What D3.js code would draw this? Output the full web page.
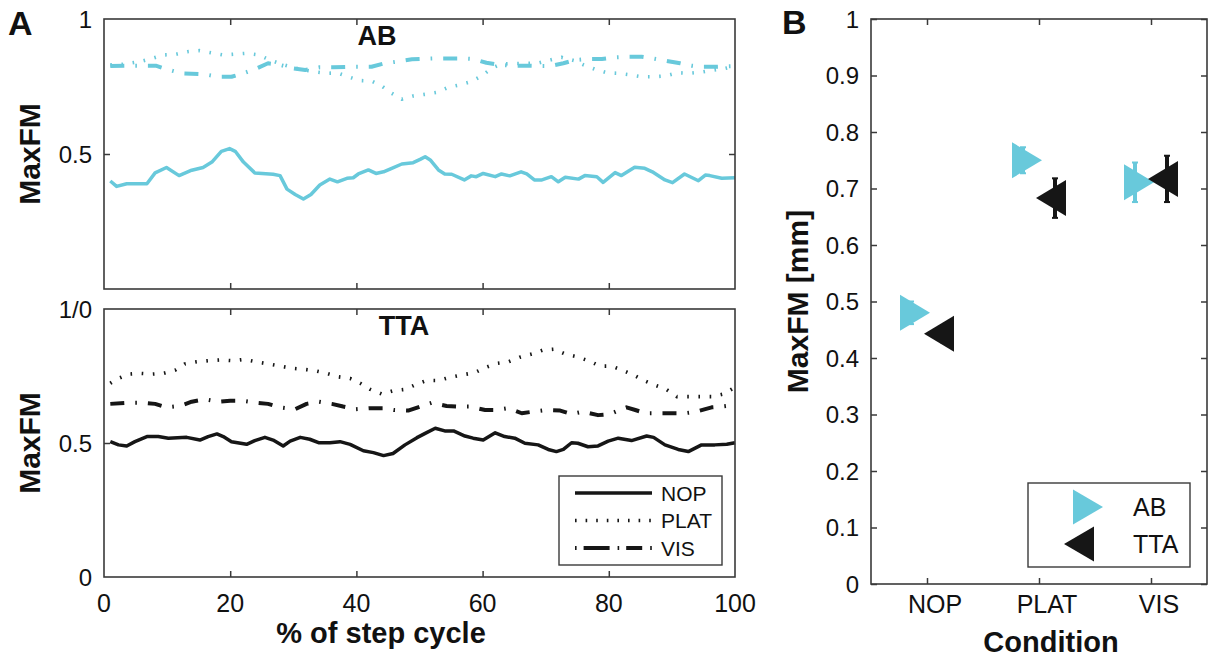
<!DOCTYPE html>
<html><head><meta charset="utf-8">
<script src="https://cdn.jsdelivr.net/npm/d3@7"></script>
<style>
html,body{margin:0;padding:0;background:#fff;}
svg text{font-family:"Liberation Sans",Arial,Helvetica,sans-serif;fill:#111;}
</style></head>
<body>
<svg id="chart" width="1212" height="659"></svg>
<script>
// ---------------- DATA ----------------
const xTicks = [0, 20, 40, 60, 80, 100];
const conditions = ["NOP", "PLAT", "VIS"];
const groups = ["AB", "TTA"];
const yTicksB = [0, 0.1, 0.2, 0.3, 0.4, 0.5, 0.6, 0.7, 0.8, 0.9, 1];
const yTickLabelsB = ["0", "0.1", "0.2", "0.3", "0.4", "0.5", "0.6", "0.7", "0.8", "0.9", "1"];

// Panel A, AB (cyan) : [% of step cycle, MaxFM]
const abNOP = [[1,.40],[2,.38],[3.6,.39],[6.8,.39],[8.1,.43],[9.9,.45],[11.9,.42],[13.9,.44],[15.7,.45],[17.1,.47],[18.6,.51],[19.9,.52],[20.8,.51],[22.1,.47],[23.9,.43],[26.8,.425],[27.9,.42],[29,.37],[30.3,.35],[31.6,.333],[32.8,.35],[34.2,.385],[35.8,.407],[37,.397],[38.5,.41],[39.5,.412],[40.3,.426],[41.9,.441],[43.1,.428],[44.3,.434],[45.6,.447],[47.2,.463],[49,.468],[50.1,.48],[50.9,.49],[51.7,.478],[53,.441],[54,.426],[55.1,.425],[57.1,.404],[58.2,.419],[59,.416],[60.1,.428],[62,.416],[63,.426],[64.3,.419],[66.1,.434],[67,.426],[68.2,.404],[69.4,.404],[70.9,.416],[72,.397],[73.1,.414],[75.2,.407],[76.2,.42],[78.1,.416],[79.1,.395],[81,.431],[82,.42],[84.1,.451],[85.7,.447],[86.9,.434],[88.9,.404],[90.1,.394],[92,.426],[94.2,.401],[95.3,.422],[96,.42],[97.9,.41],[100,.412]];
const abPLAT = [[1,.83],[3,.832],[5.7,.842],[7.6,.854],[9.4,.867],[11.3,.869],[13.2,.879],[15.1,.883],[17,.875],[18.9,.867],[20.8,.87],[22.6,.873],[24.5,.867],[26.3,.848],[28.5,.83],[31,.814],[33.2,.805],[35.3,.799],[37,.8],[38.7,.786],[40.6,.772],[42.4,.77],[44,.752],[45.6,.725],[47.2,.703],[49,.715],[50.9,.721],[52.7,.728],[54.6,.747],[56.4,.756],[58.2,.768],[59.9,.79],[61.4,.817],[62.9,.833],[65,.835],[68.7,.836],[70.7,.848],[72.5,.858],[74.5,.846],[76,.83],[77.8,.814],[79.7,.801],[81.5,.799],[83.4,.793],[85.2,.786],[87.1,.786],[88.9,.789],[90.9,.801],[92.7,.799],[94.6,.803],[96.6,.811],[98.4,.817],[100,.826]];
const abVIS = [[1,.826],[3.5,.827],[8.2,.827],[9.9,.814],[12.3,.799],[16,.795],[18.1,.786],[20.2,.786],[22.1,.799],[24.2,.817],[26,.836],[27.9,.83],[30,.817],[31.9,.811],[34.2,.821],[36.3,.821],[39.7,.823],[42.4,.823],[44.5,.836],[46.4,.842],[48.8,.851],[52.5,.854],[56.7,.854],[58.5,.852],[60.6,.838],[62.8,.83],[64.6,.827],[67,.827],[69.5,.826],[70.7,.826],[72.8,.836],[74.6,.848],[76.8,.852],[78.9,.852],[81,.858],[82.8,.86],[85.2,.86],[87,.854],[88.9,.846],[91.3,.836],[93.1,.827],[95,.823],[97.1,.823],[100,.826]];

// Panel A, TTA (black)
const ttaNOP = [[1,.505],[2.3,.493],[3.6,.489],[4.9,.505],[6.8,.524],[8.6,.524],[10.2,.518],[13.1,.521],[15.2,.511],[16.5,.524],[17.9,.534],[18.9,.524],[20.2,.505],[22.6,.495],[23.9,.509],[25.5,.521],[26.8,.511],[28.4,.489],[29.5,.507],[31.1,.521],[32.6,.514],[34,.501],[35.8,.501],[37.4,.505],[39,.495],[41.1,.471],[42.7,.464],[44.3,.453],[45.8,.461],[47.7,.493],[49.6,.52],[50.9,.536],[52.5,.555],[54,.545],[55.4,.545],[57.2,.526],[58.5,.518],[60.1,.511],[62,.538],[63.5,.524],[65.1,.518],[66.7,.499],[68.8,.493],[70.4,.476],[71.7,.468],[72.8,.476],[74.1,.501],[75.1,.499],[76.7,.486],[78.3,.489],[79.9,.507],[81.5,.518],[83.6,.509],[86,.526],[87.1,.521],[88.9,.493],[91,.476],[92.6,.468],[94.7,.493],[96.8,.493],[98.7,.495],[100,.501]];
const ttaPLAT = [[1,.723],[2,.738],[3.9,.757],[5.7,.76],[7.6,.757],[9.4,.76],[11.3,.772],[12.8,.795],[14.7,.803],[16.5,.807],[18.5,.81],[20.4,.807],[22.2,.812],[24.1,.803],[26,.795],[27.9,.787],[29.7,.779],[31.6,.775],[33.4,.77],[35.3,.76],[37.1,.747],[39,.741],[40.6,.723],[42.2,.7],[44,.683],[45.8,.695],[47.7,.7],[49.6,.72],[51.1,.733],[53,.733],[54.8,.745],[56.7,.754],[58.7,.762],[60.5,.782],[62.2,.797],[64.1,.803],[65.9,.82],[67.8,.832],[69.6,.847],[71.3,.85],[73.1,.832],[74.9,.822],[76.8,.807],[78.6,.787],[80.4,.787],[82.1,.772],[83.9,.754],[85.6,.733],[87.3,.716],[89.1,.7],[90.8,.673],[92.6,.673],[94.5,.673],[96.3,.673],[98.2,.683],[100,.708]];
const ttaVIS = [[1,.646],[3.8,.65],[6.2,.65],[8.1,.646],[9.9,.633],[12,.638],[13.9,.654],[16,.663],[18.1,.654],[20,.658],[21.8,.658],[24.2,.65],[26,.646],[27.9,.633],[30.3,.626],[32.1,.646],[34,.654],[36.1,.646],[37.9,.636],[39.9,.626],[42.2,.63],[44.2,.63],[46,.623],[48.2,.621],[50.1,.636],[51.9,.65],[54.3,.638],[56.1,.636],[58,.636],[60.4,.623],[62.2,.623],[64.1,.63],[66.2,.611],[68,.617],[70,.623],[72.3,.621],[74.1,.608],[75.9,.617],[78.3,.604],[80.2,.608],[82,.626],[82.8,.633],[84.2,.623],[85.8,.611],[87.7,.611],[90.1,.611],[92,.611],[93.9,.617],[96.3,.633],[97.9,.636],[100,.642]];

// Panel B: mean MaxFM [mm] and error per condition
const abMean = [0.48, 0.75, 0.711];
const abErr = [0.02, 0.023, 0.035];
const ttaMean = [0.443, 0.683, 0.717];
const ttaErr = [0.015, 0.035, 0.041];

// ---------------- STYLE ----------------
const CYAN = "#68c9db";
const BLACK = "#161616";
const FRAME = "#3a3a3a";
const styles = {
  NOP: {dash: null, width: 3.5},
  PLAT: {dash: "1.6,9.6", width: 3.6},
  VIS: {dash: "14,11,1.6,11", width: 4}
};

const svg = d3.select("#chart");

// ---------------- PANEL A ----------------
const xA = d3.scaleLinear().domain([0, 100]).range([104, 735]);

function drawPanelA(top, bottom, series, color, title, titleX, yLabels, showX) {
  const y = d3.scaleLinear().domain([0, 1]).range([bottom, top]);
  const g = svg.append("g");
  const tickStyle = a => { a.select(".domain").remove(); a.selectAll("line").attr("stroke", FRAME).attr("stroke-width", 1.5); };
  g.append("g").attr("transform", `translate(0,${bottom})`)
    .call(d3.axisBottom(xA).tickValues([20, 40, 60, 80]).tickSize(-6).tickFormat("")).call(tickStyle);
  g.append("g").attr("transform", `translate(0,${top})`)
    .call(d3.axisTop(xA).tickValues([20, 40, 60, 80]).tickSize(-6).tickFormat("")).call(tickStyle);
  g.append("g").attr("transform", `translate(${xA(0)},0)`)
    .call(d3.axisLeft(y).tickValues([0.5]).tickSize(-6).tickFormat("")).call(tickStyle);
  g.append("g").attr("transform", `translate(${xA(100)},0)`)
    .call(d3.axisRight(y).tickValues([0.5]).tickSize(-6).tickFormat("")).call(tickStyle);
  yLabels.forEach(([v, t]) => {
    g.append("text").attr("x", xA(0) - 12).attr("y", y(v)).attr("text-anchor", "end")
      .attr("dominant-baseline", "central").attr("font-size", 24).text(t);
  });
  const line = d3.line().x(d => xA(d[0])).y(d => y(d[1]));
  series.forEach(([key, data]) => {
    const st = styles[key];
    const p = g.append("path").datum(data).attr("d", line).attr("fill", "none")
      .attr("stroke", color).attr("stroke-width", st.width)
      .attr("stroke-linejoin", "round").attr("stroke-linecap", "butt");
    if (st.dash) p.attr("stroke-dasharray", st.dash);
  });
  g.append("rect").attr("x", xA(0)).attr("y", top).attr("width", xA(100) - xA(0)).attr("height", bottom - top)
    .attr("fill", "none").attr("stroke", FRAME).attr("stroke-width", 1.6);
  g.append("text").attr("x", titleX).attr("y", top + 26).attr("text-anchor", "middle")
    .attr("font-size", 27).attr("font-weight", "bold").text(title);
  g.append("text").attr("transform", `translate(29,${(top + bottom) / 2}) rotate(-90)`)
    .attr("text-anchor", "middle").attr("dominant-baseline", "central")
    .attr("font-size", 30).attr("font-weight", "bold").text("MaxFM");
  if (showX) {
    g.append("g").selectAll("text").data(xTicks).join("text")
      .attr("x", d => xA(d)).attr("y", bottom + 26).attr("text-anchor", "middle")
      .attr("dominant-baseline", "central").attr("font-size", 25).text(d => d);
    g.append("text").attr("x", 381).attr("y", bottom + 56)
      .attr("text-anchor", "middle").attr("dominant-baseline", "central")
      .attr("font-size", 29).attr("font-weight", "bold").text("% of step cycle");
  }
  return y;
}

drawPanelA(19, 289, [["NOP", abNOP], ["PLAT", abPLAT], ["VIS", abVIS]], CYAN, "AB", 377, [[1, "1"], [0.5, "0.5"]], false);
drawPanelA(309, 577, [["NOP", ttaNOP], ["PLAT", ttaPLAT], ["VIS", ttaVIS]], BLACK, "TTA", 404, [[1, "1/0"], [0.5, "0.5"], [0, "0"]], true);

// Legend A
(function () {
  const g = svg.append("g");
  g.append("rect").attr("x", 559).attr("y", 476).attr("width", 163).attr("height", 89)
    .attr("fill", "#fff").attr("stroke", FRAME).attr("stroke-width", 1.4);
  const keys = ["NOP", "PLAT", "VIS"];
  keys.forEach((k, i) => {
    const yy = 493 + i * 27.5;
    const st = styles[k];
    const ln = g.append("line").attr("x1", 575).attr("x2", 652).attr("y1", yy).attr("y2", yy)
      .attr("stroke", BLACK).attr("stroke-width", st.width);
    if (k === "VIS") ln.attr("stroke-dasharray", "1.6,7,26,8,1.6,7,16,8,1.6");
    else if (st.dash) ln.attr("stroke-dasharray", "1.6,9");
    g.append("text").attr("x", 661).attr("y", yy).attr("dominant-baseline", "central")
      .attr("font-size", 21).text(k);
  });
})();

// ---------------- PANEL B ----------------
const xB = d3.scalePoint().domain(conditions).range([871, 1207]).padding(0.5);
const yB = d3.scaleLinear().domain([0, 1]).range([584, 19]);
(function () {
  const g = svg.append("g");
  const tickStyle = a => { a.select(".domain").remove(); a.selectAll("line").attr("stroke", FRAME).attr("stroke-width", 1.5); a.selectAll("text").remove(); };
  g.append("g").attr("transform", "translate(871,0)").call(d3.axisLeft(yB).tickValues(yTicksB).tickSize(-6)).call(tickStyle);
  g.append("g").attr("transform", "translate(1207,0)").call(d3.axisRight(yB).tickValues(yTicksB).tickSize(-6)).call(tickStyle);
  g.append("g").attr("transform", "translate(0,584)").call(d3.axisBottom(xB).tickSize(-6)).call(tickStyle);
  g.append("g").attr("transform", "translate(0,19)").call(d3.axisTop(xB).tickSize(-6)).call(tickStyle);
  g.selectAll("text.yl").data(yTicksB).join("text").attr("class", "yl")
    .attr("x", 859).attr("y", d => yB(d)).attr("text-anchor", "end").attr("dominant-baseline", "central")
    .attr("font-size", 24).text((d, i) => yTickLabelsB[i]);
  g.selectAll("text.xl").data(conditions).join("text").attr("class", "xl")
    .attr("x", d => xB(d) + 8).attr("y", 604).attr("text-anchor", "middle").attr("dominant-baseline", "central")
    .attr("font-size", 25).text(d => d);
  g.append("text").attr("x", 1051).attr("y", 642).attr("text-anchor", "middle").attr("dominant-baseline", "central")
    .attr("font-size", 29).attr("font-weight", "bold").text("Condition");
  g.append("text").attr("transform", `translate(797,${(19 + 584) / 2}) rotate(-90)`)
    .attr("text-anchor", "middle").attr("dominant-baseline", "central")
    .attr("font-size", 30).attr("font-weight", "bold").text("MaxFM [mm]");

  const rightTri = "M-15,-18L15,0L-15,18Z";
  const leftTri = "M15,-18L-15,0L15,18Z";
  const sets = [
    {mean: abMean, err: abErr, color: CYAN, bar: -16, off: -12, tri: rightTri},
    {mean: ttaMean, err: ttaErr, color: BLACK, bar: 16, off: 12, tri: leftTri}
  ];
  sets.forEach(s => {
    conditions.forEach((c, i) => {
      const bx = xB(c) + s.bar;
      g.append("line").attr("x1", bx).attr("x2", bx)
        .attr("y1", yB(s.mean[i] - s.err[i])).attr("y2", yB(s.mean[i] + s.err[i]))
        .attr("stroke", s.color).attr("stroke-width", 4);
      [s.mean[i] - s.err[i], s.mean[i] + s.err[i]].forEach(v => {
        g.append("line").attr("x1", bx - 3).attr("x2", bx + 3).attr("y1", yB(v)).attr("y2", yB(v))
          .attr("stroke", s.color).attr("stroke-width", 2);
      });
      g.append("path").attr("d", s.tri).attr("fill", s.color)
        .attr("transform", `translate(${xB(c) + s.off},${yB(s.mean[i])})`);
    });
  });

  g.append("rect").attr("x", 871).attr("y", 19).attr("width", 336).attr("height", 565)
    .attr("fill", "none").attr("stroke", FRAME).attr("stroke-width", 1.6);

  g.append("rect").attr("x", 1028).attr("y", 483).attr("width", 162).attr("height", 84)
    .attr("fill", "#fff").attr("stroke", FRAME).attr("stroke-width", 1.4);
  g.append("path").attr("d", "M-15,-17.5L15,0L-15,17.5Z").attr("fill", CYAN).attr("transform", "translate(1088,507)");
  g.append("path").attr("d", "M15,-17.5L-15,0L15,17.5Z").attr("fill", BLACK).attr("transform", "translate(1079,544)");
  groups.forEach((t, i) => {
    g.append("text").attr("x", 1133).attr("y", 507 + i * 37).attr("dominant-baseline", "central")
      .attr("font-size", 25).text(t);
  });
})();

svg.append("text").attr("x", 8).attr("y", 35).attr("font-size", 34).attr("font-weight", "bold").text("A");
svg.append("text").attr("x", 782).attr("y", 34).attr("font-size", 34).attr("font-weight", "bold").text("B");
</script>
</body></html>
